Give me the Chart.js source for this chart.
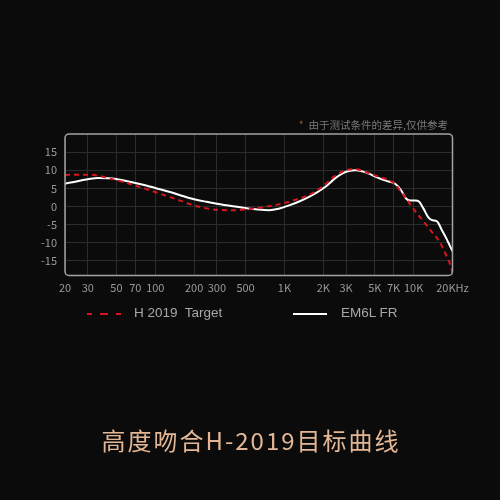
<!DOCTYPE html>
<html>
<head>
<meta charset="utf-8">
<script src="https://cdn.jsdelivr.net/npm/chart.js@4.4.1/dist/chart.umd.min.js"></script>
<style>
  html, body { margin: 0; padding: 0; background: #0b0b0b; }
  #wrap {
    position: relative; width: 500px; height: 500px; overflow: hidden;
    background: #0b0b0b;
    font-family: "Noto Sans CJK SC", "Noto Sans", sans-serif;
  }
  #chart { position: absolute; left: 0; top: 0; }
  .note {
    position: absolute; right: 52px; top: 117px;
    font-size: 10.5px; color: #7a7a7a; white-space: nowrap;
  }
  .note .star { color: #8a5a32; margin-right: 5px; }
  .legend {
    position: absolute; top: 304px; font-family: "Liberation Sans", Arial, sans-serif;
    font-size: 13.5px; color: #a8a8a8; white-space: nowrap; line-height: 18px;
  }
  .legend svg { position: absolute; top: 8px; }
  .title {
    position: absolute; left: 0; width: 500px; top: 423px; text-align: center;
    font-size: 24px; color: #e3b795; letter-spacing: 2px; text-indent: 2px; line-height: 34px;
  }
</style>
</head>
<body>
<div id="wrap">
  <canvas id="chart" width="500" height="500"></canvas>
  <div class="note"><span class="star">*</span>由于测试条件的差异,仅供参考</div>
  <div class="legend" style="left:86px;">
    <svg width="36" height="4" style="left:0;"><line x1="1" y1="2" x2="35" y2="2" stroke="#d8141e" stroke-width="2" stroke-dasharray="5 8 8 8 5"/></svg>
    <span style="margin-left:48px;">H 2019&nbsp; Target</span>
  </div>
  <div class="legend" style="left:293px;">
    <svg width="34" height="4" style="left:0;"><line x1="0" y1="2" x2="34" y2="2" stroke="#ffffff" stroke-width="2"/></svg>
    <span style="margin-left:48px;">EM6L FR</span>
  </div>
  <div class="title">高度吻合H-2019目标曲线</div>
</div>
<script>
// frequency points (Hz)
const freqs = [20, 25, 30, 36, 45, 55, 70, 85, 100, 130, 160, 200, 250, 300, 400, 500,
  620, 760, 900, 1100, 1300, 1550, 1800, 2100, 2450, 2800, 3150, 3550, 4000, 4500, 5000,
  5600, 6400, 7200, 8000, 8700, 9400, 10300, 11000, 11900, 13000, 14000, 15100, 16500,
  18000, 19200, 20000];

// H 2019 target (red dashed)
const targetDb = [8.7, 8.8, 8.8, 8.5, 7.7, 6.9, 5.8, 4.8, 4.0, 2.6, 1.5, 0.3, -0.5, -0.9, -1.0, -0.8,
  -0.4, 0.1, 0.6, 1.4, 2.2, 3.2, 4.5, 6.3, 8.4, 9.6, 10.2, 10.3, 9.9, 9.2, 8.6,
  8.0, 7.3, 6.2, 4.0, 2.4, 0.6, -1.3, -2.6, -4.0, -5.8, -7.2, -8.6, -10.8,
  -13.7, -16.0, -18.3];

// EM6L measured response (white)
const frDb = [6.3, 7.0, 7.5, 7.9, 7.8, 7.3, 6.5, 5.8, 5.1, 4.0, 3.0, 2.0, 1.3, 0.8, 0.1, -0.4,
  -0.8, -1.0, -0.6, 0.4, 1.4, 2.7, 4.0, 5.6, 7.7, 9.1, 9.8, 10.0, 9.7, 9.1, 8.3,
  7.6, 6.9, 6.3, 4.5, 2.3, 1.7, 1.7, 1.4, -0.5, -3.0, -3.8, -4.0, -6.4,
  -8.9, -11.0, -12.3];

const xTicks = [20, 30, 50, 70, 100, 200, 300, 500, 1000, 2000, 3000, 5000, 7000, 10000, 20000];
const xTickLabels = ["20", "30", "50", "70", "100", "200", "300", "500", "1K", "2K", "3K", "5K", "7K", "10K", "20KHz"];
const yTicks = [-15, -10, -5, 0, 5, 10, 15];

const toPoints = (vals) => freqs.map((f, i) => ({ x: f, y: vals[i] }));

// rounded frame around the plot area
const framePlugin = {
  id: "frame",
  afterDatasetsDraw(chart) {
    const { ctx, chartArea: a } = chart;
    ctx.save();
    ctx.strokeStyle = "#a3a3a3";
    ctx.lineWidth = 1.5;
    ctx.beginPath();
    ctx.roundRect(a.left, a.top, a.right - a.left, a.bottom - a.top, 4);
    ctx.stroke();
    ctx.restore();
  },
};

const tickFont = { family: "'Noto Sans CJK SC', 'Noto Sans', sans-serif", size: 11 };

new Chart(document.getElementById("chart"), {
  type: "line",
  data: {
    datasets: [
      {
        label: "H 2019 Target",
        data: toPoints(targetDb),
        borderColor: "#d8141e",
        borderWidth: 2,
        borderDash: [5, 4],
        pointRadius: 0,
        cubicInterpolationMode: "monotone",
        fill: false,
      },
      {
        label: "EM6L FR",
        data: toPoints(frDb),
        borderColor: "#ffffff",
        borderWidth: 2,
        pointRadius: 0,
        cubicInterpolationMode: "monotone",
        fill: false,
      },
    ],
  },
  options: {
    responsive: false,
    animation: false,
    layout: { padding: { left: 0, top: 134, right: 47.5, bottom: 194.5 } },
    plugins: { legend: { display: false }, tooltip: { enabled: false } },
    scales: {
      x: {
        type: "logarithmic",
        min: 20,
        max: 20000,
        border: { display: false },
        grid: { color: "#2c2c2c", lineWidth: 1, drawTicks: false },
        afterBuildTicks: (s) => { s.ticks = xTicks.map((v) => ({ value: v })); },
        afterFit: (s) => { s.height = 30; s.paddingLeft = 0; s.paddingRight = 0; },
        ticks: {
          color: "#9a9a9a",
          font: tickFont,
          padding: 6,
          maxRotation: 0,
          autoSkip: false,
          callback: (v) => xTickLabels[xTicks.indexOf(v)] ?? "",
        },
      },
      y: {
        min: -19,
        max: 20,
        border: { display: false },
        grid: { color: "#2c2c2c", lineWidth: 1, drawTicks: false },
        afterBuildTicks: (s) => { s.ticks = yTicks.map((v) => ({ value: v })); },
        afterFit: (s) => { s.width = 65; s.paddingTop = 0; s.paddingBottom = 0; },
        ticks: { color: "#9a9a9a", font: tickFont, padding: 8 },
      },
    },
  },
  plugins: [framePlugin],
});
</script>
</body>
</html>
